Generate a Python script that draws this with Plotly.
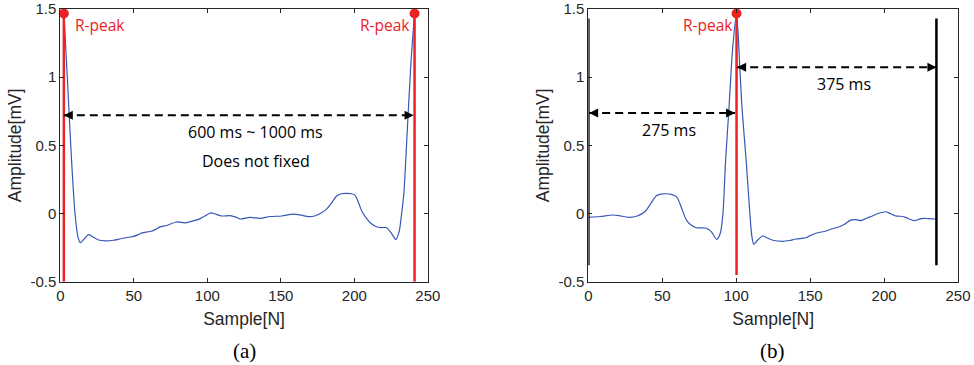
import plotly.graph_objects as go

# ---- ECG segment (a): one R-R interval between two R-peaks ----
ecg_a_x = [2.5, 5, 7.5, 10, 12, 13.6, 16, 19.2, 22, 26, 31, 36.2, 41, 46.4, 49.8, 53,
           55.5, 61.1, 64.5, 67.9, 72.5, 78.8, 84.9, 89, 94, 98, 102.4, 106, 109.8,
           115.5, 119, 122.7, 129, 135.9, 142.7, 150.6, 158.5, 164, 168.7, 173, 177.8,
           181, 184, 188, 191, 194.8, 198, 200.4, 202.5, 205, 208.3, 211, 215.1, 218.5,
           221.9, 225.3, 228.3, 230.5, 232.2, 233.7, 236, 238.5, 241]
ecg_a_y = [1.467, 0.95, 0.42, 0.0, -0.17, -0.214, -0.19, -0.155, -0.17, -0.194, -0.2,
           -0.196, -0.185, -0.174, -0.168, -0.155, -0.142, -0.132, -0.118, -0.098, -0.088,
           -0.062, -0.068, -0.058, -0.043, -0.02, 0.005, -0.006, -0.018, -0.016, -0.025,
           -0.04, -0.028, -0.035, -0.022, -0.018, -0.005, -0.012, -0.023, -0.018, 0.006,
           0.03, 0.07, 0.128, 0.145, 0.148, 0.145, 0.135, 0.09, 0.02, -0.035, -0.07,
           -0.097, -0.103, -0.104, -0.145, -0.19, -0.133, 0.0, 0.148, 0.6, 1.1, 1.467]

# ---- ECG segment (b): fixed window around a single R-peak ----
ecg_b_x = [0, 8, 16.8, 22, 28, 33, 38.2, 42, 46, 49, 52.8, 56, 59.5, 62, 66.3, 69, 73,
           79.8, 83.1, 86.9, 89.2, 91, 92.8, 95, 97.5, 100.2, 102.5, 104, 106.7, 109.2,
           110.6, 111.9, 114, 117.9, 121, 124.7, 131.4, 136, 140.4, 147.1, 150, 153.9,
           160.7, 165, 169.7, 173, 177.5, 181, 184.3, 188, 192.1, 196, 201.1, 204, 207.9,
           211, 214.6, 217, 220.2, 223, 226.3, 230, 233.7, 235]
ecg_b_y = [-0.028, -0.022, -0.011, -0.018, -0.028, -0.018, 0.013, 0.07, 0.13, 0.142,
           0.145, 0.14, 0.124, 0.07, -0.048, -0.08, -0.104, -0.108, -0.133, -0.19, -0.145,
           0.0, 0.39, 0.758, 1.2, 1.467, 1.05, 0.76, 0.39, 0.0, -0.17, -0.226, -0.2,
           -0.165, -0.18, -0.196, -0.204, -0.198, -0.187, -0.178, -0.162, -0.145, -0.128,
           -0.112, -0.097, -0.08, -0.048, -0.045, -0.052, -0.035, -0.018, 0.0, 0.013, 0.0,
           -0.018, -0.02, -0.028, -0.04, -0.052, -0.045, -0.035, -0.038, -0.04, -0.04]

# R-peak positions
rpeak_a_x = [2.4, 241.0]
rpeak_a_y = [1.467, 1.467]
rpeak_b_x = [100.2]
rpeak_b_y = [1.467]
rpeak_line_bottom = {"a": -0.5, "b": -0.45}

# Window borders in (b)
window_b_x = [0.0, 235.4]
window_b_span = [-0.38, 1.43]

# Interval arrows: (x_start, x_end, y)
arrows_a = [(2.4, 240.3, 0.72)]
arrows_b = [(0.5, 99.2, 0.738), (100.6, 235.4, 1.073)]

# Tick labels
x_ticks = [0, 50, 100, 150, 200, 250]
y_ticks = [-0.5, 0, 0.5, 1, 1.5]
y_tick_text = ["-0.5", "0", "0.5", "1", "1.5"]

BLUE = "#3757b5"
RED = "#ec2227"
AX = "#262626"

fig = go.Figure()

fig.add_trace(go.Scatter(x=ecg_a_x, y=ecg_a_y, mode="lines",
                         line=dict(color=BLUE, width=1.2, shape="spline", smoothing=0.8),
                         xaxis="x", yaxis="y", showlegend=False))
fig.add_trace(go.Scatter(x=ecg_b_x, y=ecg_b_y, mode="lines",
                         line=dict(color=BLUE, width=1.2, shape="spline", smoothing=0.8),
                         xaxis="x2", yaxis="y2", showlegend=False))

# R-peak vertical markers
for px, py in zip(rpeak_a_x, rpeak_a_y):
    fig.add_trace(go.Scatter(x=[px, px], y=[rpeak_line_bottom["a"], py], mode="lines",
                             line=dict(color=RED, width=2.5), xaxis="x", yaxis="y",
                             showlegend=False))
for px, py in zip(rpeak_b_x, rpeak_b_y):
    fig.add_trace(go.Scatter(x=[px, px], y=[rpeak_line_bottom["b"], py], mode="lines",
                             line=dict(color=RED, width=2.5), xaxis="x2", yaxis="y2",
                             showlegend=False))
fig.add_trace(go.Scatter(x=rpeak_a_x, y=rpeak_a_y, mode="markers",
                         marker=dict(color=RED, size=10), xaxis="x", yaxis="y",
                         showlegend=False, cliponaxis=False))
fig.add_trace(go.Scatter(x=rpeak_b_x, y=rpeak_b_y, mode="markers",
                         marker=dict(color=RED, size=10), xaxis="x2", yaxis="y2",
                         showlegend=False, cliponaxis=False))

# Window borders
for wx in window_b_x:
    fig.add_trace(go.Scatter(x=[wx, wx], y=window_b_span, mode="lines",
                             line=dict(color="black", width=2.5), xaxis="x2", yaxis="y2",
                             showlegend=False, cliponaxis=False))

annotations = []


def add_arrow(x0, x1, y, xr, yr):
    fig.add_shape(type="line", x0=x0, x1=x1, y0=y, y1=y, xref=xr, yref=yr,
                  line=dict(color="black", width=2, dash="8px,5px"))
    for tip, tail in ((x0, x0 + 6), (x1, x1 - 6)):
        annotations.append(dict(x=tip, y=y, ax=tail, ay=y, xref=xr, yref=yr,
                                axref=xr, ayref=yr, text="", showarrow=True,
                                arrowhead=2, arrowsize=0.9, arrowwidth=2,
                                arrowcolor="black", standoff=0))


for a in arrows_a:
    add_arrow(*a, "x", "y")
for a in arrows_b:
    add_arrow(*a, "x2", "y2")

label_font = dict(family="Open Sans", size=16, color="black")
peak_font = dict(family="Open Sans", size=15.5, color=RED)
caption_font = dict(family="Liberation Serif", size=21, color="black")

annotations += [
    dict(x=8.6, y=1.38, xref="x", yref="y", text="R-peak", showarrow=False,
         xanchor="left", font=peak_font),
    dict(x=239, y=1.38, xref="x", yref="y", text="R-peak", showarrow=False,
         xanchor="right", font=peak_font),
    dict(x=133, y=0.6, xref="x", yref="y", text="600 ms ~ 1000 ms", showarrow=False,
         font=label_font),
    dict(x=133, y=0.385, xref="x", yref="y", text="Does not fixed", showarrow=False,
         font=label_font),
    dict(x=99, y=1.38, xref="x2", yref="y2", text="R-peak", showarrow=False,
         xanchor="right", font=peak_font),
    dict(x=54.4, y=0.61, xref="x2", yref="y2", text="275 ms", showarrow=False,
         font=label_font),
    dict(x=173, y=0.95, xref="x2", yref="y2", text="375 ms", showarrow=False,
         font=label_font),
    dict(x=244 / 974, y=1 - 351 / 365, xref="paper", yref="paper", text="(a)",
         showarrow=False, xanchor="center", yanchor="middle", font=caption_font),
    dict(x=772 / 974, y=1 - 351 / 365, xref="paper", yref="paper", text="(b)",
         showarrow=False, xanchor="center", yanchor="middle", font=caption_font),
]

tick_font = dict(family="Liberation Sans", size=15, color=AX)
title_font = dict(family="Liberation Sans", size=17.5, color=AX)

common_x = dict(range=[0, 250], tickvals=x_ticks, ticktext=[str(t) for t in x_ticks],
                showline=True, linecolor=AX, linewidth=1, mirror="ticks",
                ticks="inside", ticklen=4, tickcolor=AX, showgrid=False, zeroline=False,
                automargin=False, tickfont=tick_font,
                title=dict(text="Sample[N]", font=title_font, standoff=10))
common_y = dict(range=[-0.5, 1.5], tickvals=y_ticks, ticktext=y_tick_text,
                showline=True, linecolor=AX, linewidth=1, mirror="ticks",
                ticks="inside", ticklen=4, tickcolor=AX, showgrid=False, zeroline=False,
                automargin=False, tickfont=tick_font,
                title=dict(text="Amplitude[mV]", font=title_font, standoff=4))

y_dom = [1 - 281.7 / 365, 1 - 9 / 365]
fig.update_layout(
    width=974, height=365,
    margin=dict(l=0, r=0, t=0, b=0, autoexpand=False),
    paper_bgcolor="white", plot_bgcolor="white",
    xaxis=dict(domain=[60.3 / 974, 427.8 / 974], anchor="y", **common_x),
    yaxis=dict(domain=y_dom, anchor="x", **common_y),
    xaxis2=dict(domain=[588.4 / 974, 958 / 974], anchor="y2", **common_x),
    yaxis2=dict(domain=y_dom, anchor="x2", **common_y),
    annotations=annotations,
    showlegend=False,
)

fig.write_html("out.html")
